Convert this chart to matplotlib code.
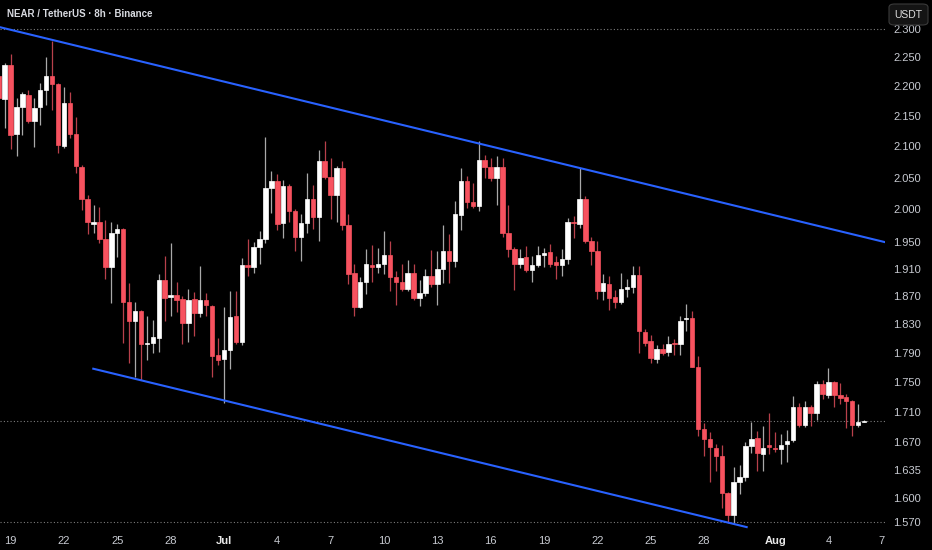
# NEAR / TetherUS 8h candles with a descending channel, TradingView dark style

import pandas as pd
import matplotlib
matplotlib.use("Agg")
import matplotlib.pyplot as plt
import matplotlib.dates as mdates
from matplotlib.patches import FancyBboxPatch
from matplotlib.ticker import FixedLocator, FixedFormatter, NullLocator

# 8h candles, first one starts 2025-06-18 08:00
first_candle = "2025-06-18 08:00"

open_ = [2.217, 2.178, 2.237, 2.120, 2.165, 2.186, 2.141, 2.165, 2.194, 2.218,
         2.204, 2.101, 2.172, 2.120, 2.067, 2.017, 1.978, 1.981, 1.955, 1.913,
         1.964, 1.970, 1.862, 1.834, 1.849, 1.802, 1.803, 1.811, 1.894, 1.869,
         1.872, 1.866, 1.832, 1.866, 1.846, 1.864, 1.856, 1.787, 1.781, 1.794,
         1.841, 1.805, 1.916, 1.913, 1.942, 1.955, 2.034, 2.044, 1.979, 2.037,
         1.998, 1.958, 1.979, 2.016, 1.989, 2.076, 2.051, 2.023, 2.065, 1.976,
         1.904, 1.854, 1.891, 1.916, 1.913, 1.918, 1.931, 1.898, 1.891, 1.881,
         1.904, 1.867, 1.875, 1.899, 1.888, 1.910, 1.937, 1.921, 1.992, 2.045,
         2.012, 2.006, 2.078, 2.066, 2.050, 2.067, 1.964, 1.939, 1.918, 1.927,
         1.908, 1.916, 1.931, 1.935, 1.920, 1.916, 1.924, 1.981, 1.978, 2.016,
         1.952, 1.936, 1.878, 1.888, 1.869, 1.861, 1.880, 1.883, 1.901, 1.819,
         1.806, 1.782, 1.795, 1.791, 1.804, 1.802, 1.837, 1.839, 1.771, 1.688,
         1.675, 1.663, 1.653, 1.606, 1.579, 1.620, 1.626, 1.665, 1.676, 1.655,
         1.666, 1.663, 1.661, 1.668, 1.673, 1.716, 1.693, 1.716, 1.708, 1.747,
         1.733, 1.750, 1.733, 1.730, 1.725, 1.692, 1.697]
high = [2.225, 2.240, 2.255, 2.180, 2.191, 2.193, 2.180, 2.205, 2.250, 2.279,
        2.205, 2.198, 2.191, 2.148, 2.070, 2.023, 2.007, 2.004, 1.983, 1.980,
        1.977, 1.971, 1.889, 1.862, 1.850, 1.841, 1.836, 1.902, 1.929, 1.948,
        1.891, 1.871, 1.881, 1.876, 1.915, 1.874, 1.857, 1.811, 1.854, 1.878,
        1.877, 1.926, 1.954, 1.950, 1.967, 2.116, 2.061, 2.056, 2.046, 2.039,
        2.000, 1.993, 2.058, 2.038, 2.094, 2.109, 2.081, 2.069, 2.077, 1.993,
        1.917, 1.898, 1.939, 1.946, 1.941, 1.967, 1.952, 1.907, 1.917, 1.923,
        1.917, 1.894, 1.910, 1.938, 1.937, 1.976, 1.962, 2.013, 2.065, 2.053,
        2.041, 2.108, 2.086, 2.081, 2.085, 2.081, 2.007, 1.943, 1.939, 1.944,
        1.929, 1.944, 1.941, 1.947, 1.929, 1.939, 1.987, 1.990, 2.065, 2.021,
        1.958, 1.952, 1.902, 1.900, 1.879, 1.904, 1.895, 1.915, 1.915, 1.823,
        1.815, 1.801, 1.802, 1.813, 1.809, 1.842, 1.859, 1.849, 1.785, 1.695,
        1.683, 1.668, 1.666, 1.607, 1.638, 1.641, 1.670, 1.697, 1.685, 1.691,
        1.708, 1.684, 1.681, 1.686, 1.731, 1.722, 1.724, 1.719, 1.751, 1.753,
        1.769, 1.751, 1.748, 1.734, 1.726, 1.720, 1.699]
low = [2.172, 2.130, 2.095, 2.084, 2.119, 2.138, 2.099, 2.135, 2.169, 2.160,
       2.090, 2.097, 2.113, 2.057, 1.999, 1.962, 1.964, 1.948, 1.895, 1.860,
       1.927, 1.804, 1.776, 1.757, 1.753, 1.780, 1.789, 1.791, 1.834, 1.841,
       1.847, 1.802, 1.805, 1.814, 1.840, 1.841, 1.757, 1.773, 1.722, 1.768,
       1.802, 1.801, 1.899, 1.904, 1.918, 1.949, 1.995, 1.969, 1.957, 1.981,
       1.937, 1.921, 1.964, 1.970, 1.952, 2.047, 1.985, 1.980, 1.969, 1.888,
       1.841, 1.853, 1.873, 1.891, 1.904, 1.902, 1.878, 1.858, 1.877, 1.877,
       1.865, 1.856, 1.870, 1.883, 1.858, 1.889, 1.889, 1.913, 1.968, 2.002,
       2.002, 1.998, 2.049, 2.044, 2.007, 1.958, 1.928, 1.879, 1.911, 1.905,
       1.891, 1.913, 1.913, 1.913, 1.895, 1.899, 1.917, 1.956, 1.971, 1.948,
       1.916, 1.866, 1.865, 1.850, 1.853, 1.859, 1.869, 1.875, 1.789, 1.799,
       1.776, 1.776, 1.787, 1.785, 1.787, 1.787, 1.821, 1.770, 1.678, 1.653,
       1.620, 1.634, 1.587, 1.569, 1.569, 1.605, 1.621, 1.656, 1.634, 1.634,
       1.655, 1.657, 1.642, 1.645, 1.671, 1.690, 1.690, 1.691, 1.699, 1.727,
       1.729, 1.717, 1.720, 1.689, 1.678, 1.690, 1.696]
close = [2.180, 2.237, 2.119, 2.165, 2.187, 2.141, 2.163, 2.194, 2.218, 2.204,
         2.102, 2.172, 2.120, 2.069, 2.017, 1.980, 1.981, 1.955, 1.913, 1.964,
         1.970, 1.862, 1.834, 1.849, 1.802, 1.803, 1.812, 1.894, 1.867, 1.872,
         1.864, 1.832, 1.865, 1.846, 1.864, 1.857, 1.786, 1.780, 1.794, 1.840,
         1.805, 1.916, 1.913, 1.942, 1.955, 2.034, 2.045, 1.978, 2.037, 1.998,
         1.958, 1.979, 2.016, 1.989, 2.076, 2.051, 2.023, 2.065, 1.976, 1.903,
         1.854, 1.891, 1.917, 1.913, 1.918, 1.931, 1.898, 1.891, 1.881, 1.904,
         1.868, 1.875, 1.899, 1.888, 1.910, 1.937, 1.921, 1.993, 2.045, 2.012,
         2.006, 2.078, 2.066, 2.050, 2.067, 1.964, 1.939, 1.918, 1.926, 1.908,
         1.916, 1.931, 1.933, 1.918, 1.916, 1.924, 1.981, 1.979, 2.017, 1.952,
         1.937, 1.878, 1.889, 1.868, 1.862, 1.880, 1.883, 1.901, 1.820, 1.804,
         1.783, 1.795, 1.790, 1.802, 1.802, 1.835, 1.839, 1.771, 1.688, 1.675,
         1.664, 1.652, 1.606, 1.579, 1.620, 1.626, 1.665, 1.675, 1.656, 1.663,
         1.664, 1.662, 1.667, 1.672, 1.716, 1.693, 1.716, 1.708, 1.747, 1.734,
         1.750, 1.732, 1.729, 1.725, 1.692, 1.697, 1.698]

# channel lines (time, price) end points
upper_t = ["2025-06-18 09:42", "2025-08-07 04:19"]
upper_p = [2.303, 1.950]
lower_t = ["2025-06-23 15:37", "2025-07-30 09:36"]
lower_p = [1.768, 1.564]

# dotted horizontal levels
levels = [2.300, 1.570]

# axis ticks
price_ticks = [2.300, 2.250, 2.200, 2.150, 2.100, 2.050, 2.000, 1.950, 1.910,
               1.870, 1.830, 1.790, 1.750, 1.710, 1.670, 1.635, 1.600, 1.570]
date_ticks = ["2025-06-19", "2025-06-22", "2025-06-25", "2025-06-28", "2025-07-01",
              "2025-07-04", "2025-07-07", "2025-07-10", "2025-07-13", "2025-07-16",
              "2025-07-19", "2025-07-22", "2025-07-25", "2025-07-28", "2025-08-01",
              "2025-08-04", "2025-08-07"]
date_labels = ["19", "22", "25", "28", "Jul", "4", "7", "10", "13", "16",
               "19", "22", "25", "28", "Aug", "4", "7"]

BG = "#000000"
UP = "#FFFFFF"
DOWN = "#F7525F"
UP_WICK = "#A9A9A9"
DOWN_WICK = "#B8404B"
CHANNEL = "#2962FF"
TEXT = "#C8CBD2"

W, H = 932, 550
fig = plt.figure(figsize=(W / 100, H / 100), dpi=100, facecolor=BG)
ax = fig.add_axes([0, 20 / H, 885 / W, 530 / H])
ax.set_facecolor(BG)

times = pd.date_range(first_candle, periods=len(open_), freq="8h")
x = mdates.date2num(times)

up_idx = [i for i in range(len(open_)) if close[i] >= open_[i]]
dn_idx = [i for i in range(len(open_)) if close[i] < open_[i]]

for idx, body_c, wick_c in [(up_idx, UP, UP_WICK), (dn_idx, DOWN, DOWN_WICK)]:
    xs = [x[i] for i in idx]
    ax.vlines(xs, [low[i] for i in idx], [high[i] for i in idx],
              color=wick_c, lw=0.9, zorder=2)
    ax.bar(xs, [abs(close[i] - open_[i]) for i in idx], width=0.25,
           bottom=[min(open_[i], close[i]) for i in idx],
           color=body_c, edgecolor=body_c, linewidth=0.5, zorder=3)

# channel
ax.plot(mdates.date2num(pd.to_datetime(upper_t)), upper_p, color=CHANNEL, lw=1.5, zorder=4)
ax.plot(mdates.date2num(pd.to_datetime(lower_t)), lower_p, color=CHANNEL, lw=1.5, zorder=4)

# dotted levels + last price line
for lv in levels + [close[-1]]:
    ax.axhline(lv, color="#7C7C7C", lw=0.8, ls=(0, (1, 2)), zorder=1)

ax.set_yscale("log")
ax.set_ylim(1.5605, 2.352)
x0 = mdates.date2num(pd.Timestamp("2025-06-19"))
ax.set_xlim(x0 - 0.596, x0 + 49.18)

ax.yaxis.set_major_locator(FixedLocator(price_ticks))
ax.yaxis.set_major_formatter(FixedFormatter([f"{p:.3f}" for p in price_ticks]))
ax.yaxis.set_minor_locator(NullLocator())
ax.yaxis.tick_right()

ax.xaxis.set_major_locator(FixedLocator(mdates.date2num(pd.to_datetime(date_ticks))))
ax.xaxis.set_major_formatter(FixedFormatter(date_labels))
ax.xaxis.set_minor_locator(NullLocator())

ax.tick_params(axis="y", length=0, pad=6, labelsize=8, labelcolor=TEXT)
ax.tick_params(axis="x", length=0, pad=4, labelsize=8, labelcolor=TEXT)
for lab in ax.get_yticklabels() + ax.get_xticklabels():
    lab.set_fontfamily("Liberation Sans")
for lab in ax.get_xticklabels():
    if lab.get_text() in ("Jul", "Aug"):
        lab.set_fontweight("bold")
        lab.set_color("#E8E8E8")

for s in ax.spines.values():
    s.set_visible(False)

# header
fig.text(7 / W, 1 - 14 / H, "NEAR / TetherUS · 8h · Binance", ha="left", va="center",
         fontsize=7.0, fontweight="bold", color="#D8DAE0", family="Liberation Sans")

# currency button top right
btn = FancyBboxPatch((889 / W, 1 - 25 / H), 39 / W, 21 / H,
                     boxstyle="round,pad=0,rounding_size=0.006",
                     transform=fig.transFigure, facecolor="#141414",
                     edgecolor="#3A3A3A", lw=0.8, zorder=5)
fig.patches.append(btn)
fig.text(908.5 / W, 1 - 14.5 / H, "USDT", ha="center", va="center", fontsize=7.5,
         color="#E0E0E0", family="Liberation Sans", zorder=6)

fig.savefig("out.png", dpi=100, facecolor=BG)
